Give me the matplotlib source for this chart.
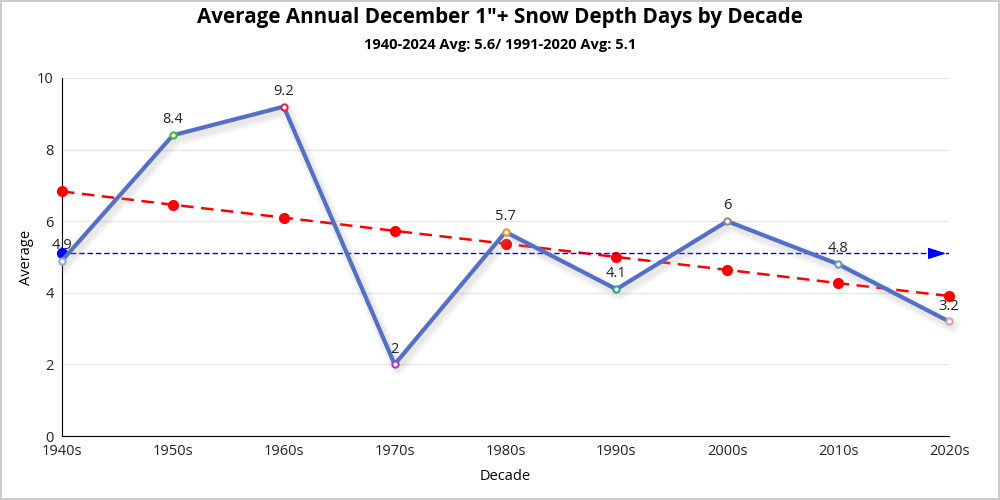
import numpy as np
import matplotlib.pyplot as plt
import matplotlib.patheffects as pe

plt.rcParams['font.family'] = ['Open Sans', 'DejaVu Sans']

decades = ['1940s', '1950s', '1960s', '1970s', '1980s', '1990s', '2000s', '2010s', '2020s']
averages = [4.9, 8.4, 9.2, 2, 5.7, 4.1, 6, 4.8, 3.2]
trend = [6.83, 6.46, 6.10, 5.73, 5.37, 5.00, 4.64, 4.27, 3.91]
normal_avg = 5.1
marker_colors = ['#8fa9c9', '#3fb93f', '#d6244d', '#a23fc0', '#e8962a',
                 '#2aa198', '#8c8c8c', '#6a9bab', '#e597b0']

x = np.arange(len(decades))

fig = plt.figure(figsize=(10, 5), dpi=100)
fig.patch.set_edgecolor('#cccccc')
fig.patch.set_linewidth(1.5)
ax = fig.add_axes([0.062, 0.128, 0.887, 0.716])

# average line with soft shadow
shadow = [pe.SimpleLineShadow(offset=(2, -3), shadow_color='#999999', alpha=0.08, linewidth=w)
          for w in (10, 7, 4)]
ax.plot(x, averages, color='#5470c6', lw=3, zorder=4, clip_on=False,
        path_effects=shadow + [pe.Normal()])
for xi, yi, c in zip(x, averages, marker_colors):
    ax.plot(xi, yi, 'o', ms=4.5, mfc='white', mec=c, mew=1.5, zorder=5, clip_on=False)
    ax.text(xi, yi + 0.22, f'{yi:g}', ha='center', va='bottom', fontsize=10.5, color='#222222', zorder=6)

# trend line
ax.plot(x, trend, color='red', lw=1.8, ls=(0, (5, 3)), marker='o', ms=7, zorder=3, clip_on=False)

# 1991-2020 avg line
ax.plot([x[0], x[-1]], [normal_avg, normal_avg], color='#0000ff', lw=1, ls=(0, (4, 2)), zorder=3)
ax.plot(x[0], normal_avg, 'o', color='#0000ff', ms=7, zorder=3, clip_on=False)
ax.annotate('', xy=(x[-1], normal_avg), xytext=(x[-1] - 0.15, normal_avg),
            arrowprops=dict(arrowstyle='-|>,head_length=1.1,head_width=0.35', color='#0000ff', lw=1))

ax.set_xlim(x[0], x[-1])
ax.set_ylim(0, 10)
ax.set_xticks(x)
ax.set_xticklabels(decades, fontsize=10.5)
ax.set_yticks([0, 2, 4, 6, 8, 10])
ax.tick_params(axis='both', length=0, labelsize=10.5, colors='#222222', pad=6)
ax.grid(axis='y', color='#e6e6e6', lw=1)
ax.set_axisbelow(True)
for s in ['top', 'right']:
    ax.spines[s].set_visible(False)
ax.spines['left'].set_color('black')
ax.spines['bottom'].set_color('black')

ax.set_xlabel('Decade', fontsize=10.5, labelpad=7)
ax.set_ylabel('Average', fontsize=10.5, labelpad=2)

fig.text(0.5, 0.965, 'Average Annual December 1"+ Snow Depth Days by Decade',
         ha='center', va='center', fontsize=14.9, fontweight='bold')
fig.text(0.5, 0.91, '1940-2024 Avg: 5.6/ 1991-2020 Avg: 5.1',
         ha='center', va='center', fontsize=10.5, fontweight='bold')

fig.savefig('out.png')
